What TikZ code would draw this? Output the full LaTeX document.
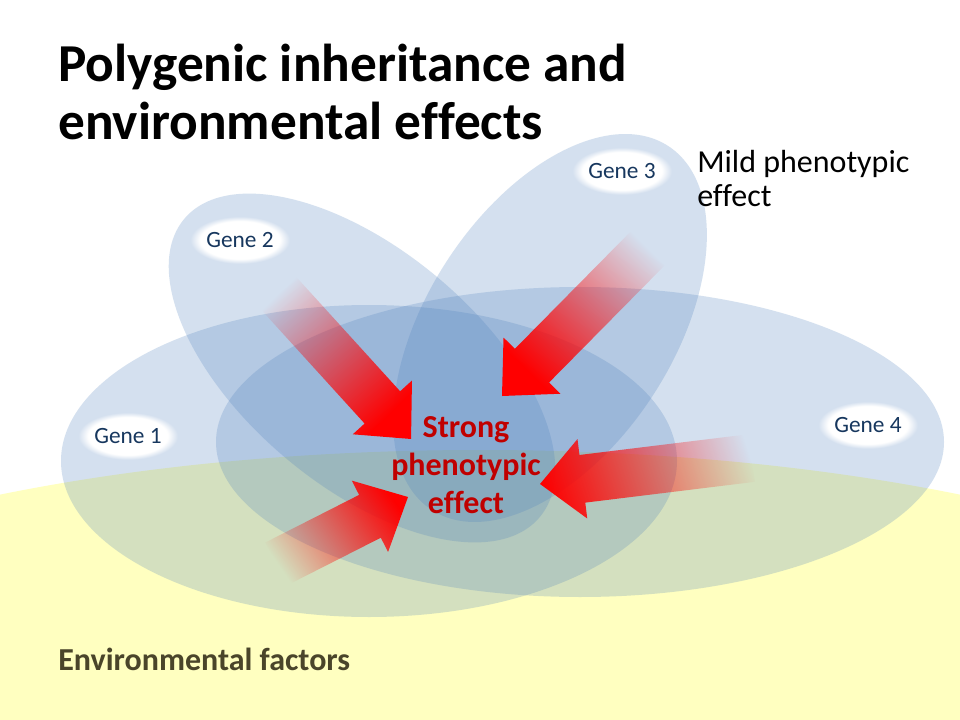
\documentclass[tikz,border=0pt]{standalone}
\usepackage{fontspec}
\setmainfont{Carlito}[Ligatures=NoCommon]
\usetikzlibrary{calc,fadings}

\definecolor{genefill}{RGB}{79,129,189}
\definecolor{envfill}{RGB}{255,255,192}
\definecolor{genetext}{RGB}{23,55,94}
\definecolor{envtext}{RGB}{74,69,42}
\definecolor{strongred}{RGB}{192,0,0}

\tikzset{
  gene/.style={fill=genefill, fill opacity=0.24},
  genelabel/.style={text=genetext, font=\fontsize{17.5}{20}\selectfont, inner sep=12pt,
    preaction={fill=white, path fading=circle with fuzzy edge 20 percent}},
  bigarrow/.style={fill=red, path fading=east, fading angle=#1},
}

% block arrow from #1 to #2, faded towards the tail
\newcommand{\redarrow}[3]{%
  \fill [bigarrow=#3]
    ($(#1)!18pt!90:(#2)$) -- ($($(#2)!32pt!(#1)$)!18pt!-90:(#1)$)
    -- ($($(#2)!32pt!(#1)$)!30pt!-90:(#1)$) -- (#2)
    -- ($($(#2)!32pt!(#1)$)!30pt!90:(#1)$) -- ($($(#2)!32pt!(#1)$)!18pt!90:(#1)$)
    -- ($(#1)!18pt!-90:(#2)$) -- cycle;}

\begin{document}
\begin{tikzpicture}[%
      x=0.75pt, y=-0.75pt,
      ]
      \useasboundingbox (0,0) rectangle (960,720);
      \clip (0,0) rectangle (960,720);
      \fill [white] (0,0) rectangle (960,720);

      % environment
      \fill [envfill] (480,740) ellipse [x radius=900, y radius=290];

      % genes
      \fill [gene] (369,461) ellipse [x radius=308, y radius=156];
      \fill [gene, rotate around={-40:(362,368)}] (362,368) ellipse [x radius=232, y radius=118];
      \fill [gene, rotate around={57:(550,328)}] (550,328) ellipse [x radius=217, y radius=123];
      \fill [gene] (580,442) ellipse [x radius=364, y radius=155];

      \node [genelabel] (gene1) at (128,436) {Gene 1};
      \node [genelabel] (gene2) at (240,240) {Gene 2};
      \node [genelabel] (gene3) at (622,171) {Gene 3};
      \node [genelabel] (gene4) at (868,425) {Gene 4};

      % arrows into the middle
      \coordinate (tail2) at (272,286);
      \coordinate (tip2) at (411,439);
      \coordinate (tail3) at (656,240);
      \coordinate (tip3) at (502,396);
      \coordinate (tail4) at (752,458);
      \coordinate (tip4) at (540,484);
      \coordinate (tailenv) at (276,564);
      \coordinate (tipenv) at (408,497);
      \redarrow{tail2}{tip2}{132}
      \redarrow{tail3}{tip3}{46}
      \redarrow{tail4}{tip4}{7}
      \redarrow{tailenv}{tipenv}{207}

      \node [text=strongred, font=\bfseries\fontsize{24}{28.5}\selectfont, align=center] (strong) at (466,465) {Strong\\phenotypic\\effect};

      \node [anchor=base west, align=left, inner sep=0, font=\bfseries\fontsize{40}{43.5}\selectfont] (title) at (58,140) {Polygenic inheritance and\\environmental effects};
      \node [anchor=base west, align=left, inner sep=0, font=\fontsize{24}{26}\selectfont] (mild) at (697,207) {Mild phenotypic\\effect};
      \node [anchor=base west, inner sep=0, text=envtext, font=\bfseries\fontsize{24}{28}\selectfont] (env) at (58,670) {Environmental factors};
\end{tikzpicture}
\end{document}
